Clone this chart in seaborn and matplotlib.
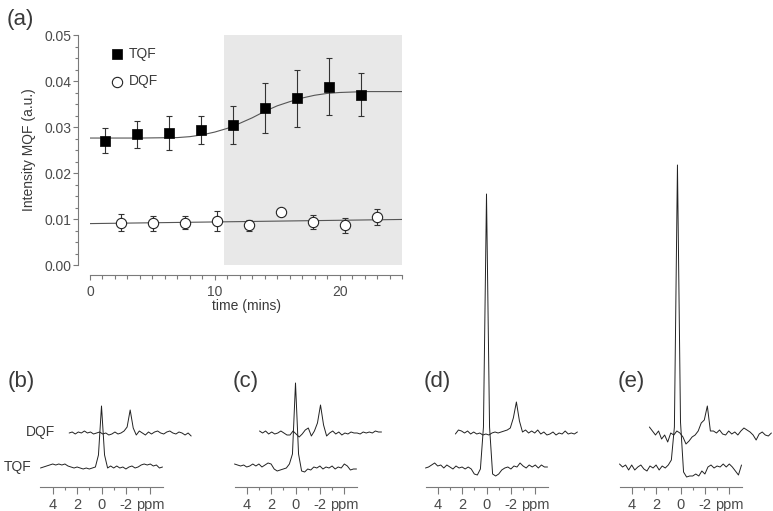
import numpy as np
import pandas as pd
import matplotlib
matplotlib.use("Agg")
import matplotlib.pyplot as plt
import seaborn as sns
from matplotlib.ticker import MultipleLocator, FormatStrFormatter

# ---------------- panel (a): MQF intensity vs time ----------------
tqf_time = [1.2, 3.75, 6.3, 8.9, 11.45, 14.0, 16.6, 19.15, 21.7]
tqf_val = [0.0270, 0.0284, 0.0287, 0.0293, 0.0304, 0.0341, 0.0362, 0.0388, 0.0370]
tqf_err = [0.0027, 0.0030, 0.0036, 0.0031, 0.0041, 0.0055, 0.0063, 0.0062, 0.0047]

dqf_time = [2.5, 5.05, 7.65, 10.2, 12.75, 15.3, 17.85, 20.45, 23.0]
dqf_val = [0.0092, 0.0091, 0.0092, 0.0096, 0.0086, 0.0116, 0.0093, 0.0086, 0.0104]
dqf_err = [0.0018, 0.0016, 0.0014, 0.0021, 0.0012, 0.0, 0.0015, 0.0016, 0.0017]

# fitted curves
fit_time = [0, 4, 7, 8, 9, 10, 11, 12, 13, 14, 15, 16, 17, 18, 19, 20, 22, 25]
tqf_fit = [0.0276, 0.0276, 0.0277, 0.0279, 0.0283, 0.0289, 0.0297, 0.0308, 0.0320,
           0.0334, 0.0346, 0.0355, 0.0363, 0.0369, 0.0373, 0.0375, 0.0377, 0.0377]
dqf_fit_time = [0, 12.5, 25]
dqf_fit = [0.0090, 0.00945, 0.0099]

shade_start = 10.75   # start of the grey window (mins)

# ---------------- panels (b)-(e): spectra ----------------
ppm = [5.0, 4.75, 4.5, 4.25, 4.0, 3.75, 3.5, 3.25, 3.0, 2.75,
       2.5, 2.25, 2.0, 1.75, 1.5, 1.25, 1.0, 0.75, 0.5, 0.25,
       0.0, -0.25, -0.5, -0.75, -1.0, -1.25, -1.5, -1.75, -2.0, -2.25,
       -2.5, -2.75, -3.0, -3.25, -3.5, -3.75, -4.0, -4.25, -4.5, -4.75, -5.0]

tqf_b = [-1, 0, 1, 2, 3, 2, 3, 2, 3, 1,
         0, -1, 0, -1, -2, -1, -2, -1, 0, 12,
         61, 12, -1, 1, -1, 1, -1, 0, -2, 0,
         1, -1, 0, 2, 3, 2, 3, 1, 2, -1, 0]
dqf_b = [0, 1, -1, 1, 0, 2, 0, 1, -1, 0,
         1, -1, 0, -2, -1, 1, -1, 0, 2, 6,
         23, 5, -2, 2, 0, -2, 1, -1, 1, 2,
         0, -1, 1, 2, 0, -1, 1, 0, -2, 0, -3]

tqf_c = [3, 2, 1, 2, 0, 1, 3, 1, 3, 0,
         2, 4, 3, -2, -4, -3, -2, -1, 3, 13,
         84, 13, -4, -5, -2, -3, 0, -1, 1, -2,
         0, -1, 1, -2, 0, -1, 3, 1, -3, -2, -2]
dqf_c = [2, 0, 2, -1, 1, -1, 0, 2, 0, -2,
         -2, 2, -1, -4, -1, 3, 5, -3, 2, 10,
         28, 8, -3, 0, 2, -1, 1, -2, 0, -1,
         1, 0, 0, -1, 1, 0, 1, 0, 2, 1, 1]

tqf_d = [-1, 0, 2, 4, 1, 2, -1, 2, 0, -2,
         1, -1, 0, -2, 0, -2, -7, -8, -2, 40,
         273, 40, -7, -9, -7, -3, -1, 0, -2, 1,
         0, 4, 1, -1, 2, 0, 2, -1, 2, 0, 0]
dqf_d = [-1, 3, 2, 0, 2, -1, 1, -1, 0, -2,
         -1, -2, 0, 1, 0, 1, 2, 3, 5, 15,
         31, 12, 1, 3, 0, 2, 0, 3, -1, 1,
         -2, -1, 1, -2, 0, -1, 2, -1, 0, -1, 1]

tqf_e = [3, 0, 2, -3, 2, -3, 0, 2, -2, -4,
         1, -1, 2, -3, 1, -1, 2, 7, 40, 302,
         45, -5, -10, -9, -9, -7, -9, -4, -7, 0,
         2, -1, 1, 0, 3, 0, 3, 0, -4, -8, 2]
dqf_e = [6, 2, -2, 2, -6, -2, -9, 0, -2, 2,
         0, -4, -11, -8, -4, -2, 2, 10, 13, 27,
         2, 2, 0, 3, -1, -2, 2, -1, 1, -2,
         2, 5, 3, 1, -2, -7, -1, 1, -2, -3, 0]

panel_names = ["(b)", "(c)", "(d)", "(e)"]
tqf_traces = [tqf_b, tqf_c, tqf_d, tqf_e]
dqf_traces = [dqf_b, dqf_c, dqf_d, dqf_e]
dqf_shift = [2.35, 2.05, 2.45, 2.45]   # horizontal stagger of the DQF trace (ppm)
dqf_lift = 34                            # vertical stagger of the DQF trace
spec_left = [40.5, 234.5, 425.5, 619.5]  # left edge of each spectrum axis (px)

# ---------------- style ----------------
sns.set_style("ticks")
plt.rcParams['font.family'] = ['Liberation Sans', 'DejaVu Sans']
txt = '#3a3a3a'
tick_txt = '#4a4a4a'
spine_c = '#7a7a7a'
plt.rcParams['text.color'] = txt
plt.rcParams['axes.labelcolor'] = txt
plt.rcParams['xtick.color'] = spine_c
plt.rcParams['ytick.color'] = spine_c
plt.rcParams['xtick.labelcolor'] = tick_txt
plt.rcParams['ytick.labelcolor'] = tick_txt

W, H = 773, 511
fig = plt.figure(figsize=(W / 100, H / 100), dpi=100)


def box(x0, y0, x1, y1):
    return [x0 / W, 1 - y1 / H, (x1 - x0) / W, (y1 - y0) / H]


# ---------------- draw (a) ----------------
ax = fig.add_axes(box(90, 35, 402, 265))
ax.axvspan(shade_start, 25, color='#e8e8e8', lw=0, zorder=0)

sns.lineplot(x=fit_time, y=tqf_fit, ax=ax, color='#555555', lw=0.8, zorder=2)
sns.lineplot(x=dqf_fit_time, y=dqf_fit, ax=ax, color='#555555', lw=0.8, zorder=2)

ax.errorbar(tqf_time, tqf_val, yerr=tqf_err, fmt='none', ecolor='#333333',
            elinewidth=0.8, capsize=2.2, capthick=0.8, zorder=3)
ax.errorbar(dqf_time, dqf_val, yerr=dqf_err, fmt='none', ecolor='#333333',
            elinewidth=0.8, capsize=2.2, capthick=0.8, zorder=3)

sns.scatterplot(x=tqf_time, y=tqf_val, ax=ax, marker='s', s=42, color='black',
                edgecolor='black', linewidth=0.5, label='TQF', zorder=4)
sns.scatterplot(x=dqf_time, y=dqf_val, ax=ax, marker='o', s=55, color='white',
                edgecolor='#222222', linewidth=0.8, label='DQF', zorder=4)

ax.set_xlim(0, 25)
ax.set_ylim(0, 0.05)
ax.xaxis.set_major_locator(MultipleLocator(10))
ax.xaxis.set_minor_locator(MultipleLocator(1))
ax.yaxis.set_major_locator(MultipleLocator(0.01))
ax.yaxis.set_minor_locator(MultipleLocator(0.0025))
ax.yaxis.set_major_formatter(FormatStrFormatter('%.2f'))
ax.tick_params(axis='both', which='major', labelsize=10, width=0.8)
ax.tick_params(axis='y', which='major', length=3.8, pad=1)
ax.tick_params(axis='y', which='minor', length=2.5, width=0.8)
ax.tick_params(axis='x', which='major', length=3.5, pad=3.5)
ax.tick_params(axis='x', which='minor', length=3, width=0.8)
sns.despine(ax=ax, offset={'left': 8.6, 'bottom': 7.2})
for s in ['left', 'bottom']:
    ax.spines[s].set_color(spine_c)
    ax.spines[s].set_linewidth(0.8)
ax.set_xlabel('time (mins)', fontsize=10, labelpad=0.5)
ax.set_ylabel('Intensity MQF (a.u.)', fontsize=10, labelpad=6)
ax.legend(loc='upper left', bbox_to_anchor=(0.064, 0.95), frameon=False,
          fontsize=10, handlelength=1.0, handletextpad=0.35, labelspacing=1.0,
          borderpad=0, borderaxespad=0)
fig.text(7 / W, 1 - 19 / H, '(a)', fontsize=16, va='center', ha='left')

# ---------------- draw (b)-(e) ----------------
for name, tqf, dqf, shift, left in zip(panel_names, tqf_traces, dqf_traces,
                                       dqf_shift, spec_left):
    sax = fig.add_axes(box(left, 150, left + 122, 487))
    sax.patch.set_visible(False)
    df_t = pd.DataFrame({'ppm': ppm, 'signal': tqf})
    df_d = pd.DataFrame({'ppm': np.array(ppm) - shift,
                         'signal': np.array(dqf) + dqf_lift})
    sns.lineplot(data=df_d, x='ppm', y='signal', ax=sax, sort=False,
                 estimator=None, color='#222222', lw=0.7)
    sns.lineplot(data=df_t, x='ppm', y='signal', ax=sax, sort=False,
                 estimator=None, color='#222222', lw=0.7)
    for ln in sax.lines:
        ln.set_clip_on(False)
    sax.set_xlim(5, -5)
    sax.set_ylim(-20, 317)
    sax.set_xticks([4, 2, 0, -2, -4])
    sax.set_xticklabels(['4', '2', '0', '-2', 'ppm'])
    sax.set_xticks([3, 1, -1, -3], minor=True)
    sax.set_yticks([])
    sax.set_xlabel('')
    sax.set_ylabel('')
    sax.tick_params(axis='x', which='major', length=5, width=0.8, labelsize=10.5, pad=3)
    sax.tick_params(axis='x', which='minor', length=2.5, width=0.8)
    sns.despine(ax=sax, left=True)
    sax.spines['bottom'].set_color(spine_c)
    sax.spines['bottom'].set_linewidth(0.8)
    fig.text((left - 33 if name == '(b)' else left - 2) / W, 1 - 381 / H, name,
             fontsize=16, va='center', ha='left')

fig.text(55 / W, 1 - 432 / H, 'DQF', fontsize=10, ha='right', va='center')
fig.text(32 / W, 1 - 467 / H, 'TQF', fontsize=10, ha='right', va='center')

fig.savefig('out.png', dpi=100)
